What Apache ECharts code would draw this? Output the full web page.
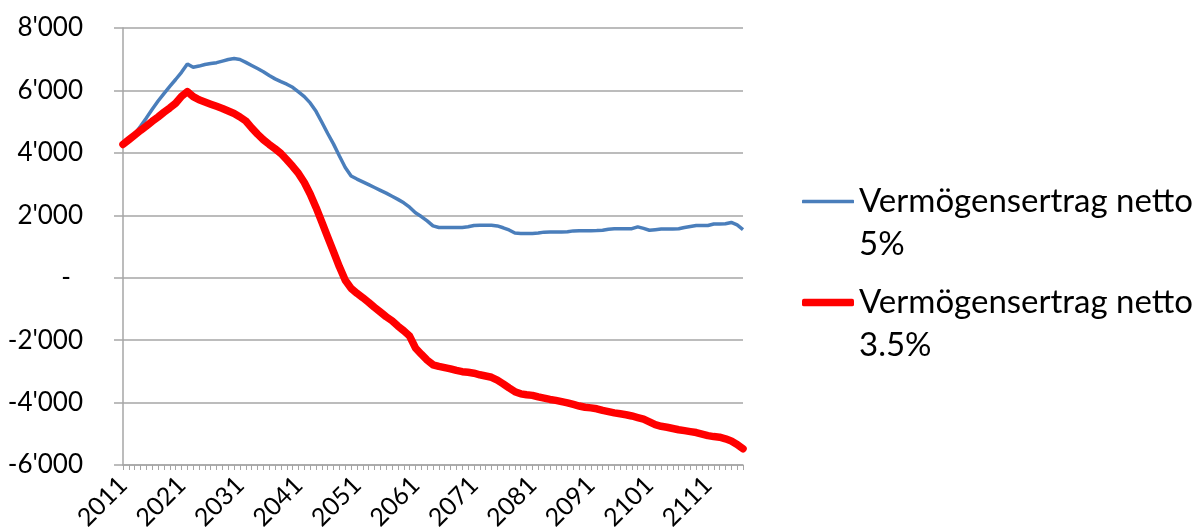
<!DOCTYPE html>
<html>
<head>
<meta charset="utf-8">
<script src="https://cdn.jsdelivr.net/npm/echarts@6/dist/echarts.min.js"></script>
<style>
  html, body { margin: 0; padding: 0; background: #fff; }
  #chart { width: 1196px; height: 532px; }
</style>
</head>
<body>
<div id="chart"></div>
<script>
// Jahre 2011 .. 2117
const years = [];
for (let y = 2011; y <= 2117; y++) years.push(String(y));

const nameBlue = 'Vermögensertrag netto 5%';
const nameRed = 'Vermögensertrag netto 3.5%';

// Vermögensertrag netto 5%
const blueValues = [
  4300, 4430, 4600, 4850, 5120, 5400, 5660, 5900, 6130, 6350,
  6580, 6850, 6740, 6780, 6830, 6860, 6890, 6940, 6990, 7020,
  6990, 6900, 6800, 6700, 6600, 6480, 6370, 6280, 6200, 6100,
  5950, 5800, 5600, 5330, 4980, 4620, 4280, 3900, 3530, 3260,
  3160, 3070, 2980, 2890, 2800, 2710, 2610, 2510, 2400, 2260,
  2080, 1960, 1820, 1660, 1610, 1610, 1610, 1610, 1610, 1630,
  1670, 1680, 1680, 1680, 1660, 1600, 1530, 1430, 1420, 1420,
  1420, 1430, 1460, 1465, 1465, 1465, 1470, 1500, 1505, 1505,
  1505, 1510, 1520, 1555, 1565, 1565, 1565, 1570, 1630, 1580,
  1520, 1540, 1560, 1560, 1560, 1570, 1610, 1640, 1670, 1670,
  1675, 1720, 1720, 1730, 1770, 1690, 1540
];

// Vermögensertrag netto 3.5%
const redValues = [
  4270, 4420, 4570, 4720, 4860, 5010, 5150, 5300, 5440, 5590,
  5810, 5960, 5800, 5700, 5630, 5560, 5490, 5420, 5340, 5260,
  5150, 5020, 4800, 4600, 4420, 4270, 4130, 3980, 3780, 3570,
  3340, 3050, 2680, 2250, 1780, 1300, 830, 350, -80, -340,
  -500, -640, -790, -950, -1100, -1250, -1380, -1550, -1700, -1870,
  -2250, -2450, -2640, -2790, -2840, -2880, -2920, -2970, -3010, -3030,
  -3060, -3110, -3150, -3190, -3280, -3400, -3530, -3650, -3720, -3750,
  -3770, -3820, -3860, -3900, -3930, -3970, -4010, -4060, -4110, -4150,
  -4170, -4200, -4250, -4290, -4330, -4360, -4390, -4430, -4480, -4530,
  -4620, -4710, -4760, -4790, -4830, -4870, -4900, -4930, -4960, -5010,
  -5060, -5090, -5110, -5160, -5230, -5340, -5480
];

const font = 'Lato';
const gridColor = '#a6a6a6';

function fmtThousands(v) {
  if (v === 0) return '{z|-}';
  const s = String(Math.abs(v)).replace(/\B(?=(\d{3})+(?!\d))/g, "'");
  return (v < 0 ? '-' : '') + s;
}

// leere erste Zeile, damit die Linie neben der ersten Textzeile steht
function legendFor(name, top, color, thick) {
  return {
    data: [{ name: name, icon: 'roundRect', itemStyle: { color: color } }],
    left: 802,
    top: top,
    padding: 0,
    itemWidth: 52,
    itemHeight: thick,
    formatter: (n) => '\n' + n.replace(' netto ', ' netto\n'),
    textStyle: {
      fontFamily: font,
      fontSize: 33,
      color: '#000',
      lineHeight: 43
    }
  };
}

const myChart = echarts.init(document.getElementById('chart'));
const option = {
  animation: false,
  backgroundColor: '#fff',
  grid: { left: 123, right: 453, top: 28, bottom: 67, containLabel: false, outerBoundsMode: 'none' },
  legend: [
    legendFor(nameBlue, 137, '#4a7ebb', 3.5),
    legendFor(nameRed, 238, '#ff0000', 7.5)
  ],
  xAxis: {
    type: 'category',
    data: years,
    boundaryGap: false,
    axisLine: { show: true, onZero: false, lineStyle: { color: gridColor, width: 1.5 } },
    axisTick: { show: true, interval: 0, length: 5, lineStyle: { color: gridColor } },
    axisLabel: {
      interval: 9,
      rotate: 45,
      margin: 16,
      fontFamily: font,
      fontSize: 25,
      color: '#000'
    },
    splitLine: { show: false }
  },
  yAxis: {
    type: 'value',
    min: -6000,
    max: 8000,
    interval: 2000,
    axisLine: { show: true, lineStyle: { color: gridColor, width: 1.5 } },
    axisTick: { show: true, length: 9, lineStyle: { color: gridColor, width: 1.5 } },
    splitLine: { show: true, lineStyle: { color: gridColor, width: 1.5 } },
    axisLabel: {
      margin: 40,
      fontFamily: font,
      fontSize: 26,
      color: '#000',
      formatter: fmtThousands,
      rich: { z: { fontFamily: font, fontSize: 26, color: '#000', padding: [0, 12, 0, 0] } }
    }
  },
  series: [
    {
      name: nameBlue,
      type: 'line',
      data: blueValues,
      showSymbol: false,
      symbol: 'none',
      lineStyle: { color: '#4a7ebb', width: 3.5 },
      itemStyle: { color: '#4a7ebb' }
    },
    {
      name: nameRed,
      type: 'line',
      data: redValues,
      showSymbol: false,
      symbol: 'none',
      lineStyle: { color: '#ff0000', width: 7.5, cap: 'round', join: 'round' },
      itemStyle: { color: '#ff0000' }
    }
  ]
};
myChart.setOption(option);
window.addEventListener('resize', function () {
  myChart.resize();
});
</script>
</body>
</html>
